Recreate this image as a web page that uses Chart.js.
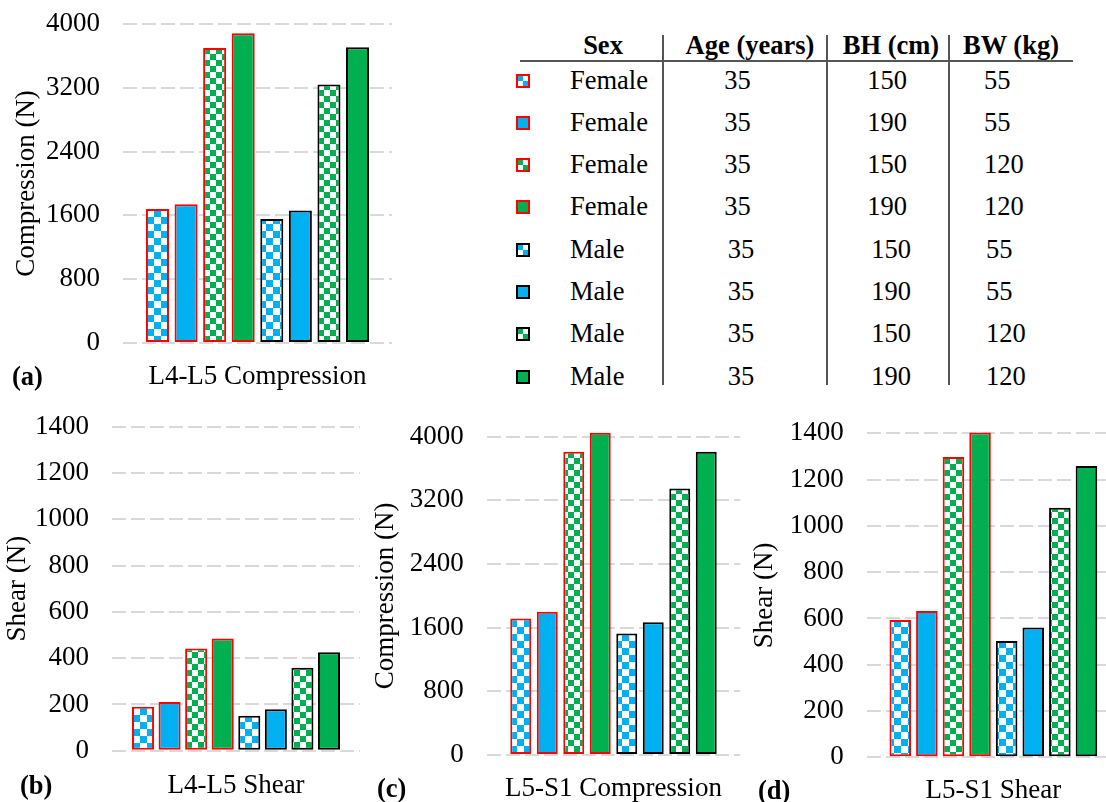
<!DOCTYPE html>
<html>
<head>
<meta charset="utf-8">
<script src="https://cdn.jsdelivr.net/npm/chart.js@4/dist/chart.umd.min.js"></script>
<style>
  html, body { margin: 0; padding: 0; background: #fff; }
  body { width: 1106px; height: 802px; overflow: hidden; position: relative; font-family: "Liberation Serif", "Times New Roman", serif; color: #000; }
  canvas { position: absolute; }
  .txt { position: absolute; font-size: 26.5px; line-height: 1; white-space: nowrap; }
  .c { transform: translate(-50%, -50%); }
  .l { transform: translate(0, -50%); }
  .b { font-weight: bold; }
  .vline { position: absolute; width: 2px; background: #555; }
  .hline { position: absolute; height: 2px; background: #555; }
  .mark { position: absolute; width: 10px; height: 10px; border: 2px solid; }
</style>
</head>
<body>
<canvas id="chartA"></canvas>
<canvas id="chartB"></canvas>
<canvas id="chartC"></canvas>
<canvas id="chartD"></canvas>
<script>
// subjects (one bar per subject in every panel)
const sexes = ['Female', 'Female', 'Female', 'Female', 'Male', 'Male', 'Male', 'Male'];
const ages = [35, 35, 35, 35, 35, 35, 35, 35];
const heights = [150, 190, 150, 190, 150, 190, 150, 190];
const weights = [55, 55, 120, 120, 55, 55, 120, 120];
const tableHeaders = ['Sex', 'Age (years)', 'BH (cm)', 'BW (kg)'];

// values (N)
const l4l5Compression = [1680, 1740, 3700, 3885, 1555, 1660, 3240, 3710];
const l4l5Shear = [190, 210, 442, 485, 151, 179, 358, 425];
const l5s1Compression = [1715, 1800, 3810, 4050, 1528, 1667, 3350, 3810];
const l5s1Shear = [593, 632, 1298, 1403, 502, 561, 1078, 1259];

const compressionTicks = { min: 0, max: 4000, step: 800 };
const shearTicks = { min: 0, max: 1400, step: 200 };

const BLUE = '#00b0f0';
const GREEN = '#00b050';
const RED = '#ff0000';
const BLACK = '#000000';
const FONT = '"Liberation Serif", "Times New Roman", serif';

const panels = [
    { id: 'chartA', tag: '(a)', label: 'L4-L5 Compression', title: 'Compression (N)', values: l4l5Compression, ticks: compressionTicks,
      box: [0, 0, 400, 400], pad: [10.8, 24, 8], axisW: 112.2, xH: 57, xPad: 9.8, cat: 0.85, bar: 0.805, tagPos: [12, 376] },
    { id: 'chartB', tag: '(b)', label: 'L4-L5 Shear', title: 'Shear (N)', values: l4l5Shear, ticks: shearTicks,
      box: [0, 400, 380, 402], pad: [1.8, 26.7, 20], axisW: 110.2, xH: 51.3, xPad: 11.1, cat: 0.857, bar: 0.83, tagPos: [20, 785] },
    { id: 'chartC', tag: '(c)', label: 'L5-S1 Compression', title: 'Compression (N)', values: l5s1Compression, ticks: compressionTicks,
      box: [370, 410, 380, 392], pad: [0, 26.7, 9.7], axisW: 116.7, xH: 47, xPad: 9.8, cat: 0.836, bar: 0.79, tagPos: [377, 788] },
    { id: 'chartD', tag: '(d)', label: 'L5-S1 Shear', title: 'Shear (N)', values: l5s1Shear, ticks: shearTicks,
      box: [740, 410, 390, 392], pad: [8.8, 23.3, 10], axisW: 117.9, xH: 44.7, xPad: 9.5, cat: 0.84, bar: 0.81, tagPos: [758, 790] }
];

function makeChecker(ctx, color, cell) {
    const c = document.createElement('canvas');
    c.width = c.height = cell * 2;
    const g = c.getContext('2d');
    g.fillStyle = '#fff';
    g.fillRect(0, 0, cell * 2, cell * 2);
    g.fillStyle = color;
    g.fillRect(0, 0, cell, cell);
    g.fillRect(cell, cell, cell, cell);
    return ctx.createPattern(c, 'repeat');
}

function addText(text, x, y, cls) {
    const el = document.createElement('div');
    el.className = 'txt ' + cls;
    el.textContent = text;
    el.style.left = x + 'px';
    el.style.top = y + 'px';
    document.body.appendChild(el);
}

function buildPanel(p) {
    const canvas = document.getElementById(p.id);
    canvas.width = p.box[2];
    canvas.height = p.box[3];
    canvas.style.left = p.box[0] + 'px';
    canvas.style.top = p.box[1] + 'px';
    const ctx = canvas.getContext('2d');
    const fills = [makeChecker(ctx, BLUE, 7), BLUE, makeChecker(ctx, GREEN, 6), GREEN];
    const datasets = sexes.map((sex, i) => ({
        label: `${sex} ${heights[i]} cm ${weights[i]} kg`,
        data: [p.values[i]],
        backgroundColor: fills[i % 4],
        borderColor: sex === 'Female' ? RED : BLACK,
        borderWidth: 2,
        borderSkipped: false,
        categoryPercentage: p.cat,
        barPercentage: p.bar,
        clip: false
    }));
    new Chart(ctx, {
        type: 'bar',
        data: { labels: [p.label], datasets: datasets },
        options: {
            responsive: false,
            animation: false,
            events: [],
            layout: { padding: { left: p.pad[0], top: p.pad[1], right: p.pad[2], bottom: 0 } },
            plugins: { legend: { display: false }, tooltip: { enabled: false } },
            scales: {
                x: {
                    grid: { display: false },
                    border: { display: false },
                    ticks: { color: '#000', font: { family: FONT, size: 27 }, padding: p.xPad, maxRotation: 0 },
                    afterFit: s => { s.height = p.xH; }
                },
                y: {
                    min: p.ticks.min,
                    max: p.ticks.max,
                    grid: { color: '#d9d9d9', lineWidth: 2, drawTicks: false },
                    border: { display: false, dash: [14, 5] },
                    ticks: { stepSize: p.ticks.step, color: '#000', font: { family: FONT, size: 27 }, padding: 23, callback: v => String(v) },
                    title: { display: true, text: p.title, color: '#000', font: { family: FONT, size: 27 }, padding: { top: 0, bottom: 0 } },
                    afterFit: s => {
                        s.width = p.axisW;
                        // keep the plot top where the layout padding puts it
                        s.paddingTop = 0;
                        s.paddingBottom = 0;
                    }
                }
            }
        }
    });
    addText(p.tag, p.tagPos[0], p.tagPos[1], 'l b');
}

function buildLegend() {
    const rowY = [79.5, 121.8, 164.1, 206.4, 248.7, 291, 333.3, 375.6];
    const headX = [603, 750, 891, 1011];
    tableHeaders.forEach((h, i) => addText(h, headX[i], 45, 'c b'));
    const rule = document.createElement('div');
    rule.className = 'hline';
    Object.assign(rule.style, { left: '520px', top: '60px', width: '553px' });
    document.body.appendChild(rule);
    [662, 826, 948].forEach(x => {
        const v = document.createElement('div');
        v.className = 'vline';
        Object.assign(v.style, { left: x + 'px', top: '35px', height: '350px' });
        document.body.appendChild(v);
    });
    const markFills = [
        `conic-gradient(#fff 0 25%, ${BLUE} 0 50%, #fff 0 75%, ${BLUE} 0)`,
        BLUE,
        `conic-gradient(#fff 0 25%, ${GREEN} 0 50%, #fff 0 75%, ${GREEN} 0)`,
        GREEN
    ];
    sexes.forEach((sex, i) => {
        const y = rowY[i];
        const male = sex === 'Male';
        const m = document.createElement('div');
        m.className = 'mark';
        Object.assign(m.style, {
            left: '516px', top: (y - 6) + 'px',
            borderColor: male ? BLACK : RED,
            background: markFills[i % 4]
        });
        document.body.appendChild(m);
        addText(sex, 570, y, 'l');
        addText(String(ages[i]), male ? 741 : 737.5, y, 'c');
        addText(String(heights[i]), male ? 891 : 887, y, 'c');
        addText(String(weights[i]), male ? 986 : 984, y, 'l');
    });
}

panels.forEach(buildPanel);
buildLegend();
</script>
</body>
</html>
